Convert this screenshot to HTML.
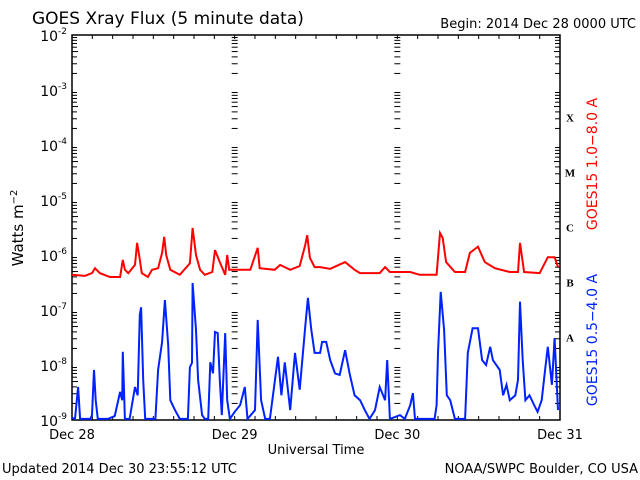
<!DOCTYPE html>
<html><head><meta charset="utf-8"><style>
html,body{margin:0;padding:0;background:#fff;}
svg{display:block;font-family:"DejaVu Sans","Liberation Sans",sans-serif;}
</style></head><body>
<svg id="chart" width="640" height="480" viewBox="0 0 640 480" xmlns="http://www.w3.org/2000/svg">
<rect width="640" height="480" fill="#fff"/>
<text x="32" y="24" font-size="17">GOES Xray Flux (5 minute data)</text>
<text x="636" y="28" font-size="13" text-anchor="end">Begin:  2014 Dec 28 0000 UTC</text>
<g id="grid"></g>
<g id="series"></g>
<g id="labels"></g>
<text transform="translate(23,228) rotate(-90)" font-size="15" text-anchor="middle">Watts m<tspan dy="-6" font-size="10">−2</tspan></text>
<text x="316" y="454" font-size="13" text-anchor="middle">Universal Time</text>
<text transform="translate(597,164) rotate(-90)" font-size="14" fill="#ff0000" text-anchor="middle">GOES15 1.0−8.0 A</text>
<text transform="translate(597,340) rotate(-90)" font-size="14" fill="#0022ff" text-anchor="middle">GOES15 0.5−4.0 A</text>
<text x="2" y="473" font-size="13">Updated 2014 Dec 30 23:55:12 UTC</text>
<text x="638" y="473" font-size="13" text-anchor="end">NOAA/SWPC Boulder, CO USA</text>
</svg>
<script>
const dayLabels = ["Dec 28","Dec 29","Dec 30","Dec 31"];
const decadeExps = [-2,-3,-4,-5,-6,-7,-8,-9];
const classLetters = ["X","M","C","B","A"];
const classExps = [-3.5,-4.5,-5.5,-6.5,-7.5];
const redHours = [0,1.9,2.95,3.4,4.1,5.6,7.1,7.5,7.8,8.3,9.3,9.6,9.9,10.3,11.2,11.8,12.7,13.3,13.6,13.9,14.5,15.9,17.4,17.8,18.3,18.9,19.6,20.7,21.1,21.8,22.6,22.9,23.2,24.8,26.3,27.4,27.7,29.9,30.7,32.2,33.6,34.4,34.7,35.1,35.8,36.6,38.1,40.3,41.7,42.5,45.4,46.2,46.9,49.9,51.3,53.8,54.3,54.7,55.2,56.5,58.0,58.7,59.9,60.9,62.4,64.6,65.8,66.1,66.7,69.0,70.2,71.2,71.7];
const redLog = [-6.36,-6.38,-6.33,-6.24,-6.33,-6.40,-6.40,-6.09,-6.27,-6.33,-6.18,-5.78,-6.00,-6.33,-6.40,-6.27,-6.24,-5.96,-5.67,-6.00,-6.27,-6.36,-6.15,-5.51,-6.00,-6.27,-6.36,-6.31,-5.91,-6.13,-6.36,-6.00,-6.27,-6.27,-6.27,-5.87,-6.24,-6.27,-6.18,-6.27,-6.20,-5.82,-5.64,-6.05,-6.22,-6.22,-6.25,-6.13,-6.27,-6.33,-6.33,-6.22,-6.31,-6.31,-6.36,-6.36,-5.60,-5.69,-6.13,-6.31,-6.31,-5.96,-5.85,-6.13,-6.24,-6.31,-6.31,-5.78,-6.31,-6.33,-6.04,-6.04,-6.22];
const blueHours = [0,0.44,0.9,1.2,2.7,2.95,3.25,3.5,3.8,5.3,6.3,7.1,7.4,7.5,7.8,8.5,9.3,9.7,10.0,10.2,10.5,10.8,11.5,12.3,12.7,13.3,13.7,14.2,14.5,15.2,15.9,17.1,17.4,17.7,17.8,18.3,18.6,19.2,19.6,20.1,20.4,20.8,21.1,21.5,21.8,22.1,22.6,22.9,23.3,24.0,24.8,25.5,25.9,27.0,27.4,27.9,28.5,29.2,30.4,30.9,31.4,32.2,32.9,33.6,34.4,34.8,35.3,35.8,36.6,36.9,37.5,38.1,38.8,39.5,40.3,41.0,41.7,42.5,43.2,43.9,44.7,45.4,46.2,46.5,46.9,48.4,49.1,49.9,50.3,50.6,52.1,53.5,53.8,54.0,54.4,54.9,55.3,55.8,56.5,58.0,58.4,59.1,59.9,60.5,61.1,61.7,62.1,63.1,63.6,64.1,64.6,65.4,65.8,66.1,66.5,66.9,67.5,68.2,68.7,69.3,69.8,70.2,70.8,71.2,71.7];
const blueLog = [-8.96,-8.98,-8.40,-8.98,-8.98,-8.91,-8.09,-8.64,-8.98,-8.98,-8.93,-8.49,-8.64,-7.76,-8.98,-8.98,-8.40,-8.55,-7.09,-6.95,-8.27,-8.98,-8.98,-8.98,-8.09,-7.58,-6.82,-7.64,-8.64,-8.82,-8.98,-8.98,-8.04,-7.96,-6.51,-7.36,-8.27,-8.91,-8.98,-8.98,-7.95,-8.15,-7.40,-7.42,-8.27,-8.91,-7.42,-8.64,-8.98,-8.85,-8.73,-8.40,-8.98,-8.82,-7.18,-8.64,-8.98,-8.98,-7.85,-8.55,-7.95,-8.82,-7.78,-8.45,-7.31,-6.78,-7.36,-7.78,-7.78,-7.58,-7.58,-7.91,-8.15,-8.18,-7.73,-8.18,-8.55,-8.64,-8.82,-8.98,-8.82,-8.40,-8.64,-7.91,-8.98,-8.91,-8.98,-8.73,-8.51,-8.98,-8.98,-8.98,-8.73,-7.78,-6.67,-7.36,-8.55,-8.64,-8.98,-8.98,-7.78,-7.33,-7.33,-7.91,-8.00,-7.67,-7.91,-8.09,-8.55,-8.36,-8.64,-8.55,-8.27,-6.85,-7.91,-8.64,-8.55,-8.73,-8.85,-8.64,-8.09,-7.67,-8.36,-7.51,-8.82];

const NS="http://www.w3.org/2000/svg";
const X0=72,X1=560,Y0=35,Y1=420;
const xs=h=>X0+(X1-X0)*h/72;
const ys=l=>Y0+(Y1-Y0)*(-2-l)/7;
function mk(tag,attrs,parent){const e=document.createElementNS(NS,tag);for(const k in attrs)e.setAttribute(k,attrs[k]);parent.appendChild(e);return e;}
const grid=document.getElementById('grid'),series=document.getElementById('series'),labels=document.getElementById('labels');
// frame
let fr=mk('rect',{x:X0,y:Y0,width:X1-X0,height:Y1-Y0,fill:'none',stroke:'#000','stroke-width':1.5},grid);


// decade lines + labels
decadeExps.forEach(e=>{
  const y=ys(e);
  if(e>-2&&e>-9){const l=mk('line',{x1:X0,x2:X1,y1:y,y2:y,stroke:'#000','stroke-width':1.3},grid);
  
  }
  const t=mk('text',{x:67,y:y+6,'font-size':14,'text-anchor':'end'},labels);
  
  
  t.innerHTML='10<tspan dy="-7" font-size="9">'+e+'</tspan>';
  // minor ticks
  if(e>-9){for(let m=2;m<=9;m++){
    const yy=ys(e-1+Math.log10(m));
    const len=m===5?6:5;
    [[X0,X0+len],[X1,X1-len]].forEach(p=>{mk('line',{x1:p[0],x2:p[1],y1:yy,y2:yy,stroke:'#000','stroke-width':1},grid);});
    [1,2].forEach(d=>{const xd=xs(d*24);mk('line',{x1:xd-3,x2:xd+3,y1:yy,y2:yy,stroke:'#000','stroke-width':1},grid);});
  }}
});
// hour ticks
for(let h=3;h<72;h+=3){
  const x=xs(h);
  mk('line',{x1:x,x2:x,y1:Y0,y2:Y0+4,stroke:'#000'},grid);
  mk('line',{x1:x,x2:x,y1:Y1,y2:Y1-4,stroke:'#000'},grid);
}
dayLabels.forEach((d,i)=>{
  const t=mk('text',{x:xs(i*24),y:439,'font-size':13,'text-anchor':'middle'},labels);
  
  
  t.textContent=d;
});
classLetters.forEach((c,i)=>{
  const t=mk('text',{x:570,y:ys(classExps[i])+4,'font-size':11,'font-weight':'bold','font-family':'Liberation Serif, serif','text-anchor':'middle'},labels);
  
  
  t.textContent=c;
});
function path(hours,logs,color,name){
  let d='';
  hours.forEach((h,i)=>{const l=Math.max(-9,Math.min(-2,logs[i]));d+=(i?'L':'M')+xs(h).toFixed(1)+','+ys(l).toFixed(1);});
  const p=mk('path',{d:d,fill:'none',stroke:color,'stroke-width':2,'stroke-linejoin':'miter'},series);
  
  
}
path(redHours,redLog,'#ff0000','red-flux-line');
path(blueHours,blueLog,'#0022ff','blue-flux-line');
</script>
</body></html>
